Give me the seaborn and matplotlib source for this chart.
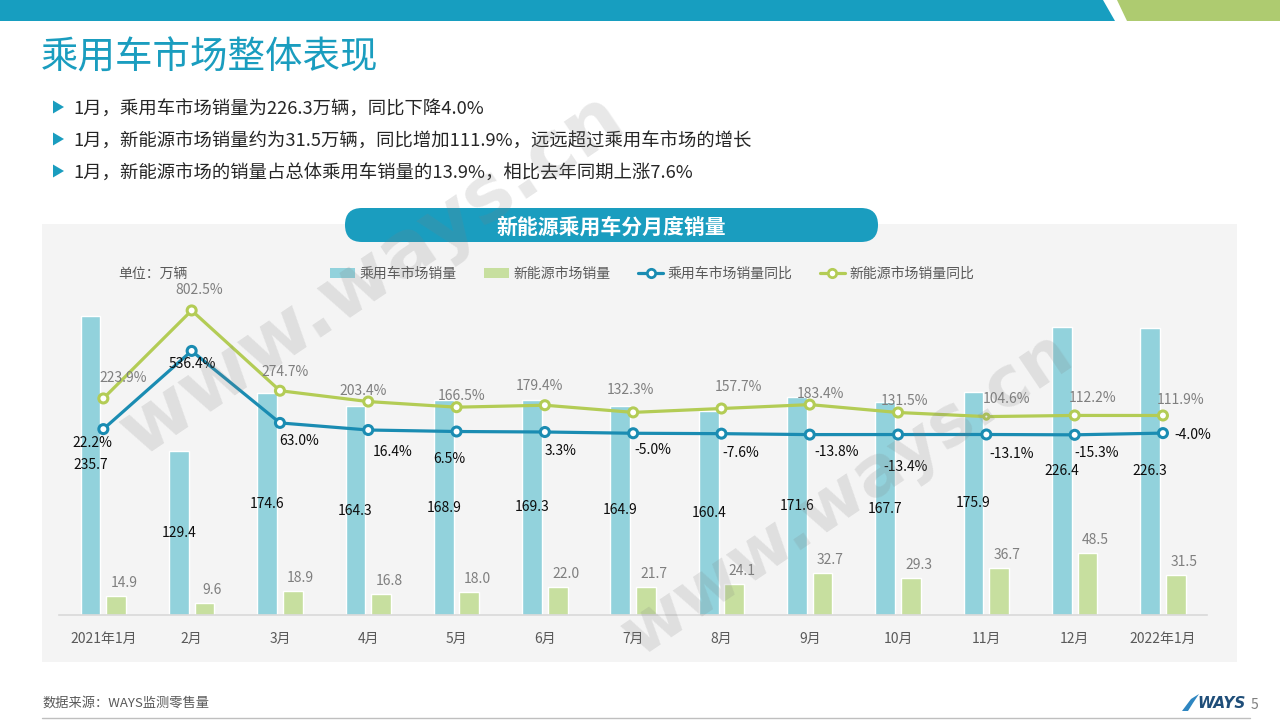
import matplotlib
matplotlib.use("Agg")
import matplotlib.pyplot as plt
from matplotlib.patches import Polygon, Rectangle, FancyBboxPatch, Patch
from matplotlib.lines import Line2D
import seaborn as sns
import pandas as pd

# ---- data ----
months = ["2021年1月", "2月", "3月", "4月", "5月", "6月", "7月",
          "8月", "9月", "10月", "11月", "12月", "2022年1月"]
pv_sales = [235.7, 129.4, 174.6, 164.3, 168.9, 169.3, 164.9,
            160.4, 171.6, 167.7, 175.9, 226.4, 226.3]
nev_sales = [14.9, 9.6, 18.9, 16.8, 18.0, 22.0, 21.7,
             24.1, 32.7, 29.3, 36.7, 48.5, 31.5]
pv_yoy = [22.2, 536.4, 63.0, 16.4, 6.5, 3.3, -5.0,
          -7.6, -13.8, -13.4, -13.1, -15.3, -4.0]
nev_yoy = [223.9, 802.5, 274.7, 203.4, 166.5, 179.4, 132.3,
           157.7, 183.4, 131.5, 104.6, 112.2, 111.9]

series_names = ["乘用车市场销量", "新能源市场销量", "乘用车市场销量同比", "新能源市场销量同比"]
bullets = [
    "1月，乘用车市场销量为226.3万辆，同比下降4.0%",
    "1月，新能源市场销量约为31.5万辆，同比增加111.9%，远远超过乘用车市场的增长",
    "1月，新能源市场的销量占总体乘用车销量的13.9%，相比去年同期上涨7.6%",
]

# label placement tweaks (pixels, right / down) as in the slide
nev_yoy_offsets = [(20, -20), (8, -20), (5, -19), (-5, -11), (5, -11), (-5, -19), (-3, -22),
                   (17, -22), (11, -11), (6, -12), (20, -18), (18, -17), (18, -15)]
pv_yoy_offsets = [(-11, 14), (1, 13), (19, 18), (24, 22), (-7, 27), (16, 19), (20, 17),
                  (19, 19), (27, 17), (8, 32), (25, 20), (22, 18), (30, 2)]
nev_marker_sizes = [42, 42, 42, 42, 42, 42, 42, 42, 42, 42, 14, 42, 42]

TEAL = "#1A9DBF"
BAR_BLUE = "#92D2DC"
BAR_GREEN = "#C7DF9F"
LINE_BLUE = "#1A8CB2"
LINE_GREEN = "#B3CC55"
GREY_TXT = "#595959"
LABEL_GREY = "#7F7F7F"

sns.set_theme(style="white")
plt.rcParams["font.family"] = ["Noto Sans CJK SC", "DejaVu Sans"]

W, H = 1280, 720
fig = plt.figure(figsize=(12.8, 7.2), dpi=100)
fig.patch.set_facecolor("white")

# ---- slide decoration layer (1 unit = 1 pixel) ----
bg = fig.add_axes([0, 0, 1, 1], zorder=-5)
bg.set_xlim(0, W)
bg.set_ylim(H, 0)
bg.axis("off")
bg.add_patch(Polygon([(0, 0), (1103, 0), (1115, 21), (0, 21)], closed=True, color="#179EC0", lw=0))
bg.add_patch(Polygon([(1117, 0), (W, 0), (W, 21), (1127, 21)], closed=True, color="#AECB70", lw=0))
bg.text(41, 58, "乘用车市场整体表现", fontsize=27, color=TEAL, va="center", ha="left")
for i, line in enumerate(bullets):
    y = 107 + i * 32
    bg.add_patch(Polygon([(53, y - 6.5), (53, y + 6.5), (64, y)], closed=True, color=TEAL, lw=0))
    bg.text(73, y + 3, line, fontsize=13.2, color="#262626", va="center", ha="left")

bg.add_patch(Rectangle((42, 224), 1195, 438, color="#F4F4F4", lw=0))
bg.add_patch(FancyBboxPatch((345, 208), 533, 34, boxstyle="round,pad=0,rounding_size=17",
                            color=TEAL, lw=0))
bg.text(611, 227, "新能源乘用车分月度销量", fontsize=15, fontweight="bold",
        color="white", ha="center", va="center")
bg.text(118, 275, "单位：万辆", fontsize=10, color=GREY_TXT, ha="left", va="center")

bg.text(42, 703, "数据来源：WAYS监测零售量", fontsize=9.5, color=GREY_TXT, ha="left", va="center")
bg.add_patch(Polygon([(1182, 711), (1191, 699), (1199, 694), (1193, 703), (1188, 711)],
                     closed=True, color="#2E86C1", lw=0))
bg.text(1197, 704, "WAYS", fontsize=11, fontweight="bold", fontstyle="italic",
        color="#1F4E79", ha="left", va="center", family="DejaVu Sans")
bg.text(1254, 705, "5", fontsize=10, color=LABEL_GREY, ha="center", va="center")
bg.plot([42, 1250], [718, 718], color="#BFBFBF", lw=1)

# ---- chart ----
left_px, right_px, top_px, base_px = 59.2, 1207.1, 250, 615
ax = fig.add_axes([left_px / W, 1 - base_px / H, (right_px - left_px) / W, (base_px - top_px) / H],
                  zorder=1)
ax.set_facecolor("none")

bars_df = pd.DataFrame({
    "月份": months * 2,
    "销量": pv_sales + nev_sales,
    "类别": [series_names[0]] * len(months) + [series_names[1]] * len(months),
})
sns.barplot(data=bars_df, x="月份", y="销量", hue="类别", hue_order=series_names[:2],
            palette=[BAR_BLUE, BAR_GREEN], width=0.58, gap=0.23, saturation=1,
            legend=False, ax=ax)
ax.set_xlim(-0.5, len(months) - 0.5)
ax.set_ylim(0, 287.4)
ax.set_xlabel("")
ax.set_ylabel("")
ax.set_yticks([])
for s in ["top", "left", "right"]:
    ax.spines[s].set_visible(False)
ax.spines["bottom"].set_color("#D9D9D9")
ax.spines["bottom"].set_linewidth(1.2)
ax.tick_params(axis="x", length=0, pad=12, labelsize=10, labelcolor=GREY_TXT)

for i, v in enumerate(pv_sales):
    ax.annotate(f"{v:.1f}", (i - 0.145, v / 2), ha="center", va="center",
                fontsize=10, color="#0D0D0D")
for i, v in enumerate(nev_sales):
    ax.annotate(f"{v:.1f}", (i + 0.145, v), xytext=(8, 6), textcoords="offset pixels",
                ha="center", va="bottom", fontsize=10, color=LABEL_GREY)

ax2 = ax.twinx()
ax2.set_zorder(2)
ax2.set_ylim(-1200, 1200)
ax2.set_yticks([])
for s in ax2.spines.values():
    s.set_visible(False)

idx = list(range(len(months)))
for vals, color, sizes in [(pv_yoy, LINE_BLUE, [42] * len(months)),
                           (nev_yoy, LINE_GREEN, nev_marker_sizes)]:
    sns.lineplot(x=idx, y=vals, color=color, linewidth=2.3, sort=False, ax=ax2)
    ax2.scatter(idx, vals, s=sizes, facecolor="white", edgecolor=color, linewidth=2.2, zorder=3)

for i, v in enumerate(nev_yoy):
    dx, dy = nev_yoy_offsets[i]
    ax2.annotate(f"{v:.1f}%", (i, v), xytext=(dx, -dy), textcoords="offset pixels",
                 ha="center", va="center", fontsize=10, color=LABEL_GREY)
for i, v in enumerate(pv_yoy):
    dx, dy = pv_yoy_offsets[i]
    ax2.annotate(f"{v:.1f}%", (i, v), xytext=(dx, -dy), textcoords="offset pixels",
                 ha="center", va="center", fontsize=10, color="#0D0D0D")
ax2.set_xlim(-0.5, len(months) - 0.5)
ax2.set_ylabel("")

handles = [
    Patch(facecolor=BAR_BLUE, edgecolor="none"),
    Patch(facecolor=BAR_GREEN, edgecolor="none"),
    Line2D([], [], color=LINE_BLUE, lw=2.3, marker="o", ms=6, mfc="white", mec=LINE_BLUE, mew=2),
    Line2D([], [], color=LINE_GREEN, lw=2.3, marker="o", ms=6, mfc="white", mec=LINE_GREEN, mew=2),
]
leg = fig.legend(handles, series_names, loc="center", bbox_to_anchor=(652 / W, 1 - 274 / H),
                 ncol=4, frameon=False, fontsize=10, handlelength=1.8, handletextpad=0.3,
                 columnspacing=2.0, labelcolor=GREY_TXT)

# ---- watermark ----
fig.text(372 / W, 1 - 276 / H, "www.ways.cn", rotation=34, fontsize=56, fontweight="bold",
         color="#808080", alpha=0.18, ha="center", va="center", family="DejaVu Sans", zorder=10)
fig.text(848 / W, 1 - 495 / H, "www.ways.cn", rotation=34, fontsize=50, fontweight="bold",
         color="#808080", alpha=0.18, ha="center", va="center", family="DejaVu Sans", zorder=10)

fig.savefig("out.png", dpi=100)
plt.close(fig)
